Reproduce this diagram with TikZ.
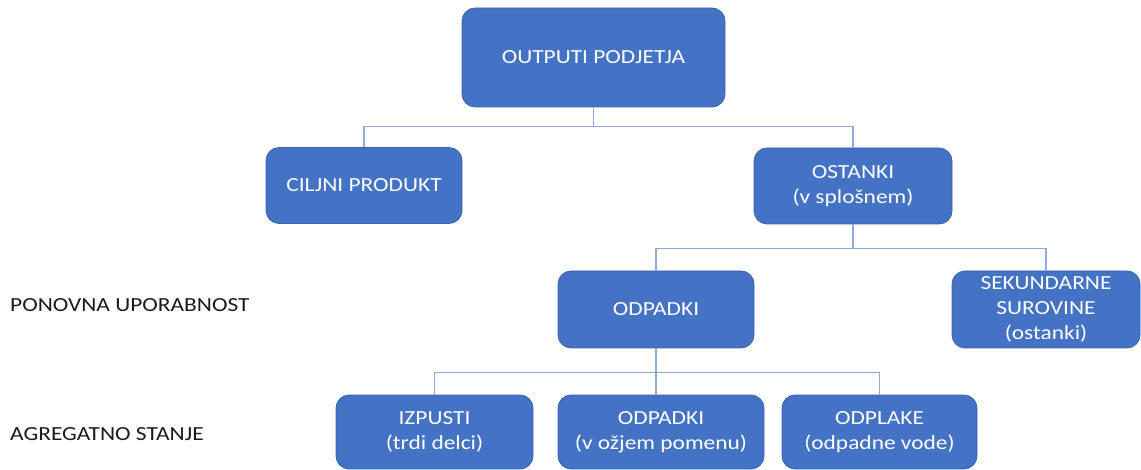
\documentclass[tikz,border=0pt]{standalone}
\usepackage{fontspec}
\setmainfont{Carlito}[FakeStretch=1.17]
\usetikzlibrary{calc}
\definecolor{boxfill}{HTML}{4472C4}
\definecolor{boxedge}{HTML}{3A63AE}
\definecolor{linkblue}{HTML}{8FAADC}
\definecolor{labeltext}{HTML}{1A1A1A}
\tikzset{
  unit/.style={draw=boxedge, line width=0.8pt, fill=boxfill, rounded corners=13pt,
    text=white, align=center, inner sep=0pt,
    font=\fontsize{20}{25}\selectfont},
  link/.style={draw=linkblue, line width=1.6pt},
  sidelabel/.style={anchor=west, text=labeltext, inner sep=0pt,
    font=\fontsize{20}{25}\selectfont},
}
\begin{document}
\begin{tikzpicture}[x=1pt, y=-1pt]
\useasboundingbox (0,0) rectangle (1141,470);

% tree of boxes
\node[unit, minimum width=263pt, minimum height=99pt] (top) at (593.5,57.5) {OUTPUTI PODJETJA};
\node[unit, minimum width=196pt, minimum height=76pt] (cilj) at (364,185.5) {CILJNI PRODUKT};
\node[unit, minimum width=198pt, minimum height=76pt] (ost) at (853,186) {OSTANKI\\(v splošnem)};
\node[unit, minimum width=196pt, minimum height=77pt] (odp) at (656,309.5) {ODPADKI};
\node[unit, minimum width=188pt, minimum height=77pt] (sek) at (1046,309.5) {SEKUNDARNE\\SUROVINE\\(ostanki)};
\node[unit, minimum width=197pt, minimum height=74pt] (izp) at (434.5,432) {IZPUSTI\\(trdi delci)};
\node[unit, minimum width=206pt, minimum height=74pt] (odpo) at (661,432) {ODPADKI\\(v ožjem pomenu)};
\node[unit, minimum width=195pt, minimum height=74pt] (odpl) at (879.5,432) {ODPLAKE\\(odpadne vode)};

% row captions
\node[sidelabel] (pon) at (10,305) {PONOVNA UPORABNOST};
\node[sidelabel] (agr) at (10,434) {AGREGATNO STANJE};

% connectors
\coordinate (j1) at ($(top.south)+(0,19)$);
\draw[link] (top.south) -- (j1);
\draw[link] (j1) -| (cilj.north);
\draw[link] (j1) -| (ost.north);

\coordinate (j2) at ($(ost.south)+(0,24)$);
\draw[link] (ost.south) -- (j2);
\draw[link] (j2) -| (odp.north);
\draw[link] (j2) -| (sek.north);

\coordinate (j3) at ($(odp.south)+(0,24)$);
\draw[link] (odp.south) -- (odp.south |- odpo.north);
\draw[link] (j3) -| (izp.north);
\draw[link] (j3) -| (odpl.north);
\end{tikzpicture}
\end{document}
